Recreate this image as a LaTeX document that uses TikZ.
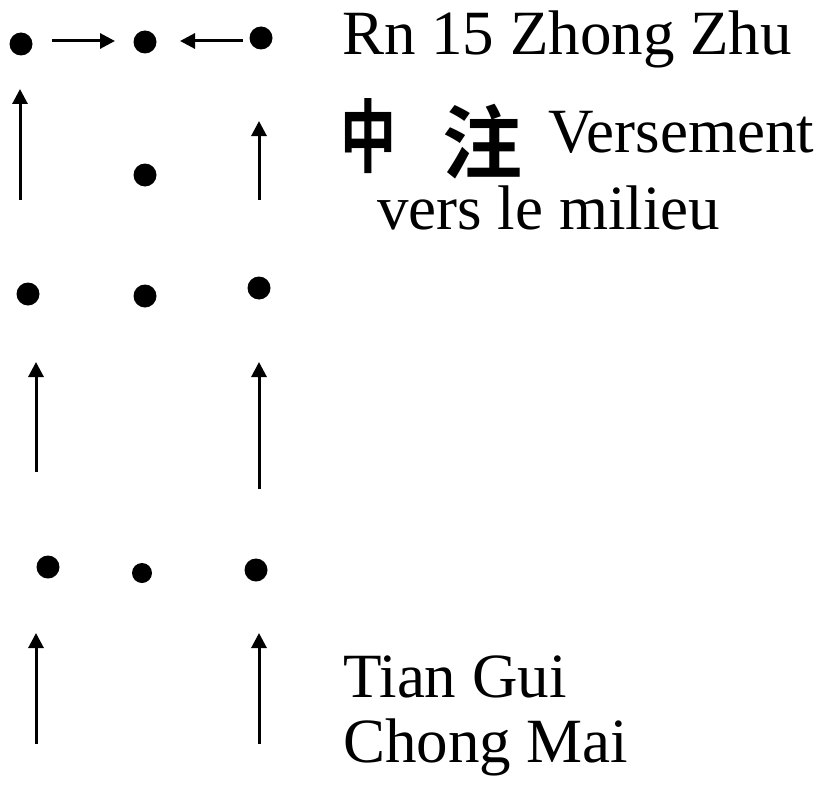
\documentclass[tikz,border=0pt]{standalone}
\usepackage{fontspec}
\setmainfont{Liberation Serif}
\newfontfamily\cjk{Noto Sans CJK SC Bold}
\usetikzlibrary{arrows.meta}
\begin{document}
\begin{tikzpicture}[x=1pt,y=-1pt,
  dot/.style={circle,fill=black,inner sep=0pt,minimum size=23pt},
  flow/.style={line width=3pt,-{Triangle[length=15pt,width=15pt]}},
  lbl/.style={anchor=base west,inner sep=0pt,font=\fontsize{63}{72}\selectfont}]
\useasboundingbox (0,0) rectangle (829,789);
% dots
\node[dot] (d11) at (21,44) {};
\node[dot] (d12) at (145,42) {};
\node[dot] (d13) at (261,38) {};
\node[dot] (d22) at (145,175) {};
\node[dot] (d31) at (28,294) {};
\node[dot] (d32) at (145,296) {};
\node[dot] (d33) at (259,288) {};
\node[dot] (d41) at (48,567) {};
\node[dot, minimum size=20pt] (d42) at (142,573) {};
\node[dot] (d43) at (256,570) {};
% arrow end points
\coordinate (h1s) at (52,41);  \coordinate (h1e) at (115,41);
\coordinate (h2s) at (243,41); \coordinate (h2e) at (180,41);
\coordinate (v1s) at (20,200); \coordinate (v1e) at (20,89);
\coordinate (v2s) at (259,200); \coordinate (v2e) at (259,121);
\coordinate (v3s) at (36,472); \coordinate (v3e) at (36,362);
\coordinate (v4s) at (259,489); \coordinate (v4e) at (259,362);
\coordinate (v5s) at (36,744); \coordinate (v5e) at (36,633);
\coordinate (v6s) at (259,744); \coordinate (v6e) at (259,633);
\draw[flow] (h1s) -- (h1e);
\draw[flow] (h2s) -- (h2e);
\draw[flow] (v1s) -- (v1e);
\draw[flow] (v2s) -- (v2e);
\draw[flow] (v3s) -- (v3e);
\draw[flow] (v4s) -- (v4e);
\draw[flow] (v5s) -- (v5e);
\draw[flow] (v6s) -- (v6e);
% texts
\node[lbl] (t1) at (342,55) {Rn 15 Zhong Zhu};
\node[inner sep=0pt,font=\cjk\fontsize{80}{80}\selectfont,xscale=0.7] (c1) at (368,136) {中};
\node[inner sep=0pt,font=\cjk\fontsize{80}{80}\selectfont] (c2) at (482,142) {注};
\node[lbl] (t2) at (548,152) {Versement};
\node[lbl] (t3) at (377,229) {vers le milieu};
\node[lbl] (t4) at (343,697) {Tian Gui};
\node[lbl] (t5) at (343,762) {Chong Mai};
\end{tikzpicture}
\end{document}
